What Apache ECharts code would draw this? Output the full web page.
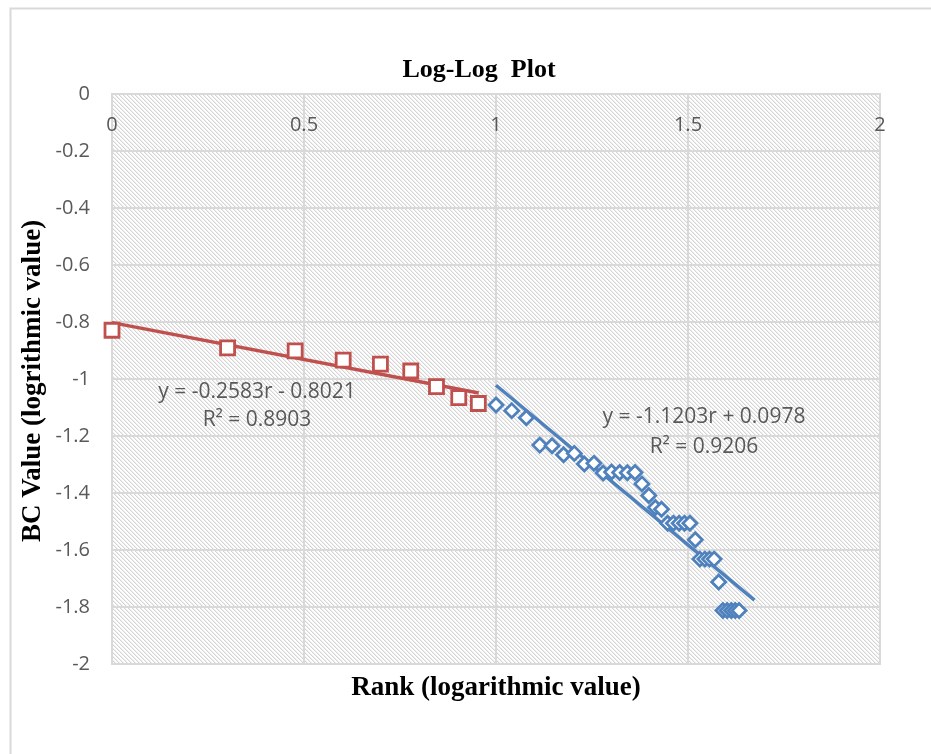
<!DOCTYPE html>
<html>
<head>
<meta charset="utf-8">
<script src="https://cdn.jsdelivr.net/npm/echarts@6/dist/echarts.min.js"></script>
<style>
html,body{margin:0;padding:0;background:#fff;}
#c{width:931px;height:754px;}
</style>
</head>
<body>
<div id="c"></div>
<script>
// ---- Data ----
var xTicks = ['0', '0.5', '1', '1.5', '2'];
var yTicks = ['0', '-0.2', '-0.4', '-0.6', '-0.8', '-1', '-1.2', '-1.4', '-1.6', '-1.8', '-2'];

// Red squares (log rank, log BC value)
var redX = [0.000, 0.301, 0.477, 0.602, 0.699, 0.778, 0.845, 0.903, 0.954];
var redY = [-0.829, -0.891, -0.901, -0.934, -0.948, -0.972, -1.027, -1.065, -1.086];

// Blue diamonds
var blueX = [1.000, 1.041, 1.079, 1.114, 1.146, 1.176, 1.204, 1.230, 1.255, 1.279,
             1.301, 1.322, 1.342, 1.362, 1.380, 1.398, 1.415, 1.431, 1.447, 1.462,
             1.477, 1.491, 1.505, 1.519, 1.531, 1.544, 1.556, 1.568, 1.580, 1.591,
             1.602, 1.613, 1.623, 1.633];
var blueY = [-1.091, -1.111, -1.136, -1.232, -1.234, -1.266, -1.261, -1.298, -1.296, -1.330,
             -1.326, -1.328, -1.329, -1.328, -1.368, -1.409, -1.451, -1.457, -1.506, -1.506,
             -1.506, -1.506, -1.506, -1.564, -1.632, -1.632, -1.632, -1.632, -1.712, -1.812,
             -1.812, -1.812, -1.812, -1.812];

// Trendline endpoints (as drawn)
var redTrendX = [0.000, 0.955];
var redTrendY = [-0.802, -1.049];
var blueTrendX = [1.000, 1.673];
var blueTrendY = [-1.022, -1.776];

var redEq = ['y = -0.2583r - 0.8021', 'R² = 0.8903'];
var blueEq = ['y = -1.1203r + 0.0978', 'R² = 0.9206'];

function zip(a, b) { return a.map(function (v, i) { return [v, b[i]]; }); }

// hatch pattern for plot area
var pc = document.createElement('canvas');
pc.width = 4; pc.height = 4;
var pctx = pc.getContext('2d');
var img = pctx.createImageData(4, 4);
for (var yy = 0; yy < 4; yy++) {
  for (var xx = 0; xx < 4; xx++) {
    var k = (yy * 4 + xx) * 4;
    var d = ((xx - yy) % 4 + 4) % 4;
    var v = (d === 0) ? 212 : (d === 1 ? 238 : 255);
    img.data[k] = v; img.data[k + 1] = v; img.data[k + 2] = v; img.data[k + 3] = 255;
  }
}
pctx.putImageData(img, 0, 0);

var chart = echarts.init(document.getElementById('c'), null, {renderer: 'canvas'});
var labelFont = 'Open Sans';
var titleFont = '"Liberation Serif", "Times New Roman", serif';

var option = {
  animation: false,
  backgroundColor: '#fff',
  title: {
    text: 'Log-Log  Plot',
    left: 474, top: 52, textAlign: 'center',
    textStyle: {fontFamily: titleFont, fontWeight: 'bold', fontSize: 26, color: '#000'}
  },
  grid: {
    left: 112, top: 94, right: 51, bottom: 90,
    show: true,
    backgroundColor: {image: pc, repeat: 'repeat'},
    borderColor: '#d9d9d9', borderWidth: 2
  },
  xAxis: {
    type: 'value', min: 0, max: 2, interval: 0.5, position: 'top',
    axisLine: {show: false}, axisTick: {show: false},
    axisLabel: {
      inside: true, margin: 21, color: '#595959', fontFamily: labelFont, fontSize: 20,
      formatter: function (v) { return xTicks[Math.round(v / 0.5)]; }
    },
    splitLine: {show: true, lineStyle: {color: '#d9d9d9', width: 2}}
  },
  yAxis: {
    type: 'value', min: -2, max: 0, interval: 0.2,
    axisLine: {show: false}, axisTick: {show: false},
    axisLabel: {
      margin: 22, color: '#595959', fontFamily: labelFont, fontSize: 20,
      formatter: function (v) { return yTicks[Math.round(-v / 0.2)]; }
    },
    splitLine: {show: true, lineStyle: {color: '#d9d9d9', width: 2}}
  },
  series: [
    {
      type: 'line', data: zip(redTrendX, redTrendY), showSymbol: false, symbol: 'none',
      lineStyle: {color: '#C0504D', width: 3.4}, z: 2, silent: true
    },
    {
      type: 'line', data: zip(blueTrendX, blueTrendY), showSymbol: false, symbol: 'none',
      lineStyle: {color: '#4F81BD', width: 3.4}, z: 2, silent: true
    },
    {
      type: 'scatter', data: zip(redX, redY), symbol: 'rect', symbolSize: 14, clip: false,
      itemStyle: {color: '#fff', borderColor: '#C0504D', borderWidth: 2.8, opacity: 1}, z: 3
    },
    {
      type: 'scatter', data: zip(blueX, blueY), symbol: 'diamond', symbolSize: 14, clip: false,
      itemStyle: {color: '#fff', borderColor: '#4F81BD', borderWidth: 2.8, opacity: 1}, z: 3
    }
  ],
  graphic: [
    {type: 'rect', left: 8, top: 6, shape: {width: 1000, height: 1000}, silent: true,
     style: {fill: 'none', stroke: '#d9d9d9', lineWidth: 2}, z: -1},
    {type: 'text', x: 496, y: 688, silent: true,
     style: {text: 'Rank (logarithmic value)', fontFamily: titleFont, fontWeight: 'bold', fontSize: 27,
             fill: '#000', align: 'center', verticalAlign: 'middle'}},
    {type: 'text', x: 33, y: 381, rotation: Math.PI / 2, silent: true,
     style: {text: 'BC Value (logrithmic value)', fontFamily: titleFont, fontWeight: 'bold', fontSize: 27,
             fill: '#000', align: 'center', verticalAlign: 'middle'}},
    {type: 'text', x: 257, y: 392, silent: true, z: 10,
     style: {text: redEq[0], fontFamily: labelFont, fontSize: 21, fill: '#595959', align: 'center', verticalAlign: 'middle'}},
    {type: 'text', x: 257, y: 420, silent: true, z: 10,
     style: {text: redEq[1], fontFamily: labelFont, fontSize: 21, fill: '#595959', align: 'center', verticalAlign: 'middle'}},
    {type: 'text', x: 704, y: 417, silent: true, z: 10,
     style: {text: blueEq[0], fontFamily: labelFont, fontSize: 21, fill: '#595959', align: 'center', verticalAlign: 'middle'}},
    {type: 'text', x: 704, y: 447, silent: true, z: 10,
     style: {text: blueEq[1], fontFamily: labelFont, fontSize: 21, fill: '#595959', align: 'center', verticalAlign: 'middle'}}
  ]
};
chart.setOption(option);
</script>
</body>
</html>
